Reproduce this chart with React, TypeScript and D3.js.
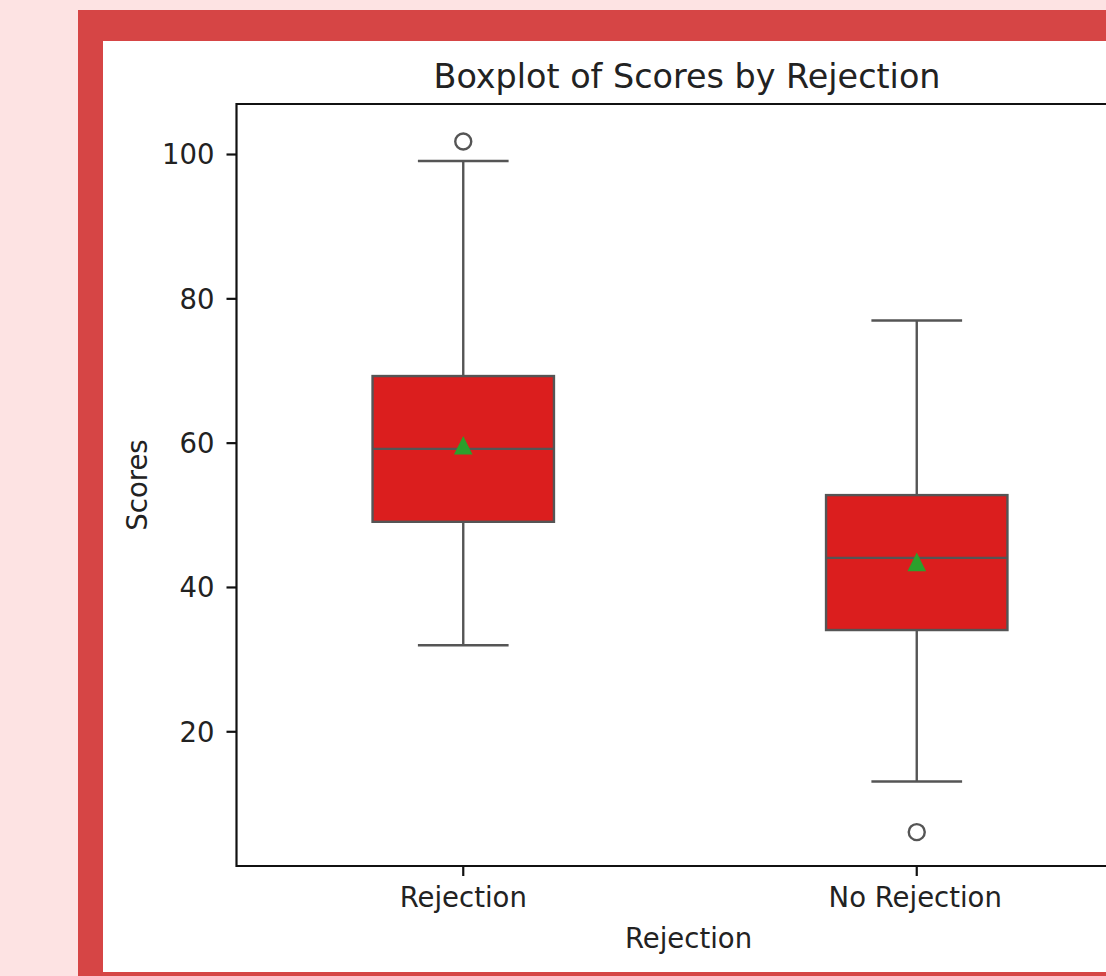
import React from "react";
import * as d3 from "d3";

const categories = ["Rejection", "No Rejection"];
const q1 = [49.1, 34.1];
const median = [59.2, 44.1];
const q3 = [69.3, 52.8];
const whiskerLow = [32.0, 13.1];
const whiskerHigh = [99.1, 77.0];
const means = [59.7, 43.55];
const outliers = [[101.8], [6.1]];
const yTicks = [20, 40, 60, 80, 100];
const yDomain: [number, number] = [1.4, 107];

const W = 1106;
const H = 976;
const left = 236.5;
const right = 1143.5;
const top = 104;
const bottom = 866;

export default function App() {
  const x = d3.scaleLinear().domain([-0.5, categories.length - 0.5]).range([left, right]);
  const y = d3.scaleLinear().domain(yDomain).range([bottom, top]);
  const boxW = x(0.4) - x(0);
  const capW = x(0.2) - x(0);
  const lineColor = "#555555";
  const font = "DejaVu Sans, sans-serif";
  const cx = (left + right) / 2;
  const triPath = (px: number, py: number) => {
    const s = 9.3;
    return `M${px},${py - s}L${px + s},${py + s}L${px - s},${py + s}Z`;
  };

  return (
    <svg
      width={W}
      height={H}
      style={{ position: "fixed", left: 0, top: 0 }}
      xmlns="http://www.w3.org/2000/svg"
    >
      <rect x={0} y={0} width={W} height={H} fill="#fde3e3" />
      <rect x={78} y={10} width={W} height={H} fill="#d64545" />
      <rect x={103} y={41} width={W} height={972 - 41} fill="#ffffff" />

      {categories.map((c, i) => {
        const xc = x(i);
        return (
          <g key={c}>
            <line x1={xc} x2={xc} y1={y(q3[i])} y2={y(whiskerHigh[i])} stroke={lineColor} strokeWidth={2.4} />
            <line x1={xc} x2={xc} y1={y(q1[i])} y2={y(whiskerLow[i])} stroke={lineColor} strokeWidth={2.4} />
            <line x1={xc - capW / 2} x2={xc + capW / 2} y1={y(whiskerHigh[i])} y2={y(whiskerHigh[i])} stroke={lineColor} strokeWidth={2.4} />
            <line x1={xc - capW / 2} x2={xc + capW / 2} y1={y(whiskerLow[i])} y2={y(whiskerLow[i])} stroke={lineColor} strokeWidth={2.4} />
            <rect
              x={xc - boxW / 2}
              y={y(q3[i])}
              width={boxW}
              height={y(q1[i]) - y(q3[i])}
              fill="#db1e1e"
              stroke={lineColor}
              strokeWidth={2.4}
            />
            <line x1={xc - boxW / 2} x2={xc + boxW / 2} y1={y(median[i])} y2={y(median[i])} stroke={lineColor} strokeWidth={2.4} />
            {outliers[i].map((v, j) => (
              <circle key={j} cx={xc} cy={y(v)} r={8} fill="none" stroke={lineColor} strokeWidth={2.4} />
            ))}
            <path d={triPath(xc, y(means[i]))} fill="#2ca02c" />
          </g>
        );
      })}

      <line x1={left} x2={W} y1={top} y2={top} stroke="#111" strokeWidth={2.2} />
      <line x1={left} x2={left} y1={top - 1.1} y2={bottom + 1.1} stroke="#111" strokeWidth={2.2} />
      <line x1={left} x2={W} y1={bottom} y2={bottom} stroke="#111" strokeWidth={2.2} />

      {yTicks.map((t) => (
        <g key={t}>
          <line x1={left - 10} x2={left} y1={y(t)} y2={y(t)} stroke="#111" strokeWidth={2.2} />
          <text x={left - 22} y={y(t)} dy="0.36em" textAnchor="end" fontFamily={font} fontSize={27.5} fill="#222">
            {t}
          </text>
        </g>
      ))}

      {categories.map((c, i) => (
        <g key={c}>
          <line x1={x(i)} x2={x(i)} y1={bottom} y2={bottom + 10} stroke="#111" strokeWidth={2.2} />
          <text x={x(i) - (i === 1 ? 1.5 : 0)} y={907} textAnchor="middle" fontFamily={font} fontSize={27.5} fill="#222">
            {c}
          </text>
        </g>
      ))}

      <text x={cx - 1.5} y={948} textAnchor="middle" fontFamily={font} fontSize={27.5} fill="#222">
        Rejection
      </text>
      <text
        transform={`translate(147,${(top + bottom) / 2}) rotate(-90)`}
        textAnchor="middle"
        fontFamily={font}
        fontSize={27.5}
        fill="#222"
      >
        Scores
      </text>
      <text x={cx - 3} y={87.5} textAnchor="middle" fontFamily={font} fontSize={33.4} fill="#222">
        Boxplot of Scores by Rejection
      </text>
    </svg>
  );
}
